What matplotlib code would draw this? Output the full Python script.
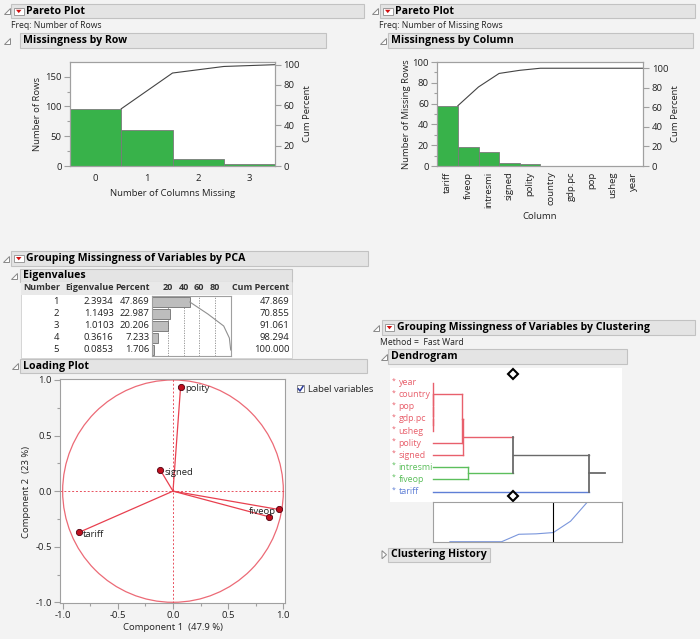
import numpy as np
import matplotlib.pyplot as plt
from matplotlib.patches import Rectangle, Polygon, Circle

plt.rcParams['font.family'] = ['Open Sans', 'DejaVu Sans']

W, H = 700, 639

# ---- data ----
# Pareto: missingness by row
row_missing = [0, 1, 2, 3]
row_counts = [96, 60, 11, 3]

# Pareto: missingness by column
col_names = ['tariff', 'fiveop', 'intresmi', 'signed', 'polity',
             'country', 'gdp.pc', 'pop', 'usheg', 'year']
col_counts = [58, 18, 13, 3, 2, 0, 0, 0, 0, 0]

# PCA eigenvalues
eig_number = [1, 2, 3, 4, 5]
eigenvalues = [2.3934, 1.1493, 1.0103, 0.3616, 0.0853]
eig_percent = [47.869, 22.987, 20.206, 7.233, 1.706]
eig_cum = [47.869, 70.855, 91.061, 98.294, 100.000]

# PCA loadings
load_vars = ['polity', 'signed', 'fiveop', 'intresmi', 'tariff']
load_c1 = [0.069, -0.115, 0.957, 0.867, -0.852]
load_c2 = [0.940, 0.190, -0.165, -0.230, -0.371]

# clustering (leaf order, cluster id, merges as linkage rows)
dend_leaves = ['year', 'country', 'pop', 'gdp.pc', 'usheg',
               'polity', 'signed', 'intresmi', 'fiveop', 'tariff']
leaf_cluster = [0, 0, 0, 0, 0, 0, 0, 1, 1, 2]
dend_merges = [(3, 4, 0), (2, 10, 0), (1, 11, 0), (0, 12, 0),
               (13, 5, 87), (14, 6, 92), (7, 8, 107), (15, 16, 240), (17, 9, 470)]
n_clusters = 3

# ---- styles ----
PAGE = '#f3f3f3'
TXT = '#222222'
AXC = '#a0a0a0'
GREEN = '#38b24a'
RED = '#e8505e'
CL_COLORS = ['#e8606c', '#5cbf5c', '#5f7fd6']
GRAY = '#6a6a6a'
FS = 6.8

fig = plt.figure(figsize=(W / 100, H / 100), dpi=100)
fig.patch.set_facecolor(PAGE)

bg = fig.add_axes([0, 0, 1, 1])
bg.set_xlim(0, W)
bg.set_ylim(H, 0)
bg.axis('off')


def box(x0, y0, x1, y1):
    return fig.add_axes([x0 / W, 1 - y1 / H, (x1 - x0) / W, (y1 - y0) / H])


def style(ax, size=FS):
    for s in ax.spines.values():
        s.set_color(AXC)
        s.set_linewidth(0.8)
    ax.tick_params(which='both', colors=AXC, labelcolor=TXT, labelsize=size,
                   width=0.8, direction='out', pad=2)
    ax.tick_params(which='major', length=4)
    ax.tick_params(which='minor', length=2)


def header(x0, y0, x1, y1, title, ix, btn=False, collapsed=False):
    bg.add_patch(Rectangle((x0, y0), x1 - x0, y1 - y0, fc='#e4e4e4', ec='#c2c2c2', lw=0.8))
    iy = (y0 + y1) / 2
    if collapsed:
        bg.add_patch(Polygon([[ix - 2, iy - 4], [ix - 2, iy + 4], [ix + 2.5, iy]],
                             closed=True, fc='white', ec='#888888', lw=0.7))
    else:
        bg.add_patch(Polygon([[ix - 3, iy + 3], [ix + 3, iy + 3], [ix + 3, iy - 3]],
                             closed=True, fc='white', ec='#888888', lw=0.7))
    tx = x0 + 2.7
    if btn:
        bg.add_patch(Rectangle((x0 + 3, iy - 3.5), 9.5, 7, fc='white', ec='#9a9a9a', lw=0.7))
        bg.add_patch(Polygon([[x0 + 5, iy - 1.5], [x0 + 10.5, iy - 1.5], [x0 + 7.75, iy + 1.8]],
                             closed=True, fc='#d01010', ec='none'))
        tx = x0 + 15
    bg.text(tx, iy, title, fontsize=7.6, fontweight='bold', va='center', ha='left', color='black')


def ptext(x, y, s, **kw):
    kw.setdefault('fontsize', 6.2)
    kw.setdefault('color', TXT)
    kw.setdefault('va', 'center')
    bg.text(x, y, s, **kw)


# ---- headers ----
header(11, 4.3, 364, 18.3, 'Pareto Plot', 6.5, btn=True)
header(380, 4.3, 695, 18.3, 'Pareto Plot', 374.5, btn=True)
header(20, 33.3, 326, 47.7, 'Missingness by Row', 7)
header(388.3, 33.3, 693.3, 47.7, 'Missingness by Column', 383)
header(11, 251, 367.7, 266, 'Grouping Missingness of Variables by PCA', 6, btn=True)
header(20, 269.3, 291.7, 281.7, 'Eigenvalues', 14)
header(20, 359.3, 366.7, 372.7, 'Loading Plot', 15)
header(381.7, 320, 695, 335, 'Grouping Missingness of Variables by Clustering', 375.5, btn=True)
header(388.3, 349.3, 626.7, 364.3, 'Dendrogram', 384)
header(388.3, 547.7, 490, 561.7, 'Clustering History', 384, collapsed=True)

ptext(11, 26, 'Freq: Number of Rows')
ptext(379, 26, 'Freq: Number of Missing Rows')
ptext(380, 342.3, 'Method =  Fast Ward')

# ---- Pareto by row ----
ax1 = box(70, 62, 275, 166)
ax1.bar(row_missing, row_counts, width=1.0, color=GREEN, edgecolor='#7a7a7a', linewidth=0.6)
cum1 = np.cumsum(row_counts)
ax1.plot(np.array(row_missing) + 0.5, cum1, color='#444444', lw=0.8)
ax1.set_xlim(-0.5, 3.5)
ax1.set_ylim(0, 174.5)
ax1.set_xticks(row_missing)
ax1.set_yticks([0, 50, 100, 150])
ax1.set_yticks([25, 75, 125], minor=True)
style(ax1)
ax1.tick_params(axis='x', length=0, pad=6)
ax1r = ax1.twinx()
ax1r.set_ylim(0, 174.5 / cum1[-1] * 100)
ax1r.set_yticks(range(0, 101, 20))
style(ax1r)
ptext(38, 114, 'Number of Rows', rotation=90, ha='center', fontsize=FS)
ptext(307, 114, 'Cum Percent', rotation=90, ha='center', fontsize=FS)
ptext(172.5, 194, 'Number of Columns Missing', ha='center', fontsize=FS)

# ---- Pareto by column ----
ax2 = box(437.3, 62, 643.3, 166)
xc = np.arange(len(col_names))
ax2.bar(xc, col_counts, width=1.0, color=GREEN, edgecolor='#7a7a7a', linewidth=0.6)
cum2 = np.cumsum(col_counts)
ax2.plot(xc + 0.5, cum2, color='#444444', lw=0.8)
ax2.set_xlim(-0.5, len(col_names) - 0.5)
ax2.set_ylim(0, 100)
ax2.set_xticks(xc)
ax2.set_xticklabels(col_names, rotation=90)
ax2.set_yticks(range(0, 101, 20))
ax2.set_yticks(range(10, 100, 20), minor=True)
style(ax2)
ax2.tick_params(axis='x', length=0, pad=4)
ax2r = ax2.twinx()
ax2r.set_ylim(0, 100 / cum2[-1] * 100)
ax2r.set_yticks(range(0, 101, 20))
style(ax2r)
ptext(406.7, 114, 'Number of Missing Rows', rotation=90, ha='center', fontsize=FS)
ptext(675, 114, 'Cum Percent', rotation=90, ha='center', fontsize=FS)
ptext(540, 216.7, 'Column', ha='center', fontsize=FS)

# ---- Eigenvalue table ----
bg.add_patch(Rectangle((21, 282), 271, 76, fc='white', ec='#d0d0d0', lw=0.6))
bg.add_patch(Rectangle((21, 282), 271, 13, fc='#e9e9e9', ec='none'))
hdr = dict(fontsize=6.5, fontweight='bold', ha='right', color='#333333')
ptext(60, 288, 'Number', **hdr)
ptext(113.5, 288, 'Eigenvalue', **hdr)
ptext(149.3, 288, 'Percent', **hdr)
ptext(289.3, 288, 'Cum Percent', **hdr)
for i in range(len(eig_number)):
    y = 302 + 12 * i
    ptext(59, y, str(eig_number[i]), ha='right', fontsize=FS)
    ptext(113.5, y, f'{eigenvalues[i]:.4f}', ha='right', fontsize=FS)
    ptext(149.3, y, f'{eig_percent[i]:.3f}', ha='right', fontsize=FS)
    ptext(289.3, y, f'{eig_cum[i]:.3f}', ha='right', fontsize=FS)

axe = box(152.3, 296, 230.7, 356)
axe.barh(range(len(eig_percent)), eig_percent, height=0.82, color='#bdbdbd',
         edgecolor='#707070', linewidth=0.6)
axe.plot(eig_cum, range(len(eig_cum)), color='#909090', lw=0.8)
for v in [20, 40, 60, 80]:
    axe.axvline(v, color='#8a8a8a', ls=(0, (1.5, 1.5)), lw=0.6, zorder=0)
axe.set_xlim(0, 100)
axe.set_ylim(len(eig_percent) - 0.5, -0.5)
axe.xaxis.tick_top()
axe.set_xticks([20, 40, 60, 80])
axe.set_yticks([])
style(axe)
axe.tick_params(axis='x', length=0, pad=3, labelsize=6.5)
for lab in axe.get_xticklabels():
    lab.set_fontweight('bold')
    lab.set_color('#333333')

# ---- Loading plot ----
axl = box(60, 379.3, 285, 603.3)
axl.set_facecolor('white')
axl.add_patch(Circle((0, 0), 1, fill=False, ec='#ec6a76', lw=0.9))
axl.axhline(0, color=RED, ls=(0, (2, 2)), lw=0.7)
axl.axvline(0, color=RED, ls=(0, (2, 2)), lw=0.7)
for x, y in zip(load_c1, load_c2):
    axl.plot([0, x], [0, y], color='#e8404f', lw=0.9)
axl.plot(load_c1, load_c2, 'o', ms=4.5, mfc='#c0101e', mec='#500010', mew=0.6)
label_off = {'polity': (3, -1, 'left'), 'signed': (3, -1.5, 'left'),
             'fiveop': (-2, -1.5, 'right'), 'tariff': (3, -1.5, 'left')}
for name, x, y in zip(load_vars, load_c1, load_c2):
    if name in label_off:
        dx, dy, ha = label_off[name]
        axl.annotate(name, (x, y), xytext=(dx, dy), textcoords='offset points',
                     ha=ha, va='center', fontsize=FS, color=TXT)
axl.set_xlim(-1.024, 1.015)
axl.set_ylim(-1.009, 1.006)
ticks = [-1.0, -0.5, 0.0, 0.5, 1.0]
axl.set_xticks(ticks)
axl.set_yticks(ticks)
axl.set_xticklabels([f'{t:.1f}' for t in ticks])
axl.set_yticklabels([f'{t:.1f}' for t in ticks])
axl.set_xticks([-0.75, -0.25, 0.25, 0.75], minor=True)
axl.set_yticks([-0.75, -0.25, 0.25, 0.75], minor=True)
style(axl)
axl.tick_params(axis='x', pad=1.5)
ptext(26.7, 491.5, 'Component 2  (23 %)', rotation=90, ha='center', fontsize=FS)
ptext(172.7, 627, 'Component 1  (47.9 %)', ha='center', fontsize=FS)

# checkbox
bg.add_patch(Rectangle((296.7, 385), 7.6, 7.3, fc='white', ec='#8a8a8a', lw=0.7))
bg.plot([298.3, 300, 303], [388.8, 391, 386.3], color='#2a3a9a', lw=1.1)
ptext(307.7, 389, 'Label variables', fontsize=FS)

# ---- Dendrogram ----
axd = box(390, 368, 622, 502)
axd.set_facecolor('white')
axd.set_xticks([])
axd.set_yticks([])
for s in axd.spines.values():
    s.set_visible(False)
axd.set_xlim(-128, 568)
axd.set_ylim(9.86, -1.21)

node_y = list(range(len(dend_leaves)))
node_x = [0.0] * len(dend_leaves)
node_cl = list(leaf_cluster)
node_col = [CL_COLORS[c] for c in leaf_cluster]
for a, b, h in dend_merges:
    for c in (a, b):
        axd.plot([node_x[c], h], [node_y[c], node_y[c]], color=node_col[c], lw=1.0)
    cl = node_cl[a] if node_cl[a] == node_cl[b] else -1
    col = CL_COLORS[cl] if cl >= 0 else GRAY
    axd.plot([h, h], [node_y[a], node_y[b]], color=col, lw=1.0 if cl >= 0 else 1.3)
    node_y.append((node_y[a] + node_y[b]) / 2)
    node_x.append(h)
    node_cl.append(cl)
    node_col.append(col)
axd.plot([node_x[-1], node_x[-1] + 48], [node_y[-1]] * 2, color=GRAY, lw=1.3)

for i, (name, c) in enumerate(zip(dend_leaves, leaf_cluster)):
    axd.text(-122, i - 0.15, '*', color=CL_COLORS[c], fontsize=5, ha='left', va='center')
    axd.text(-102, i, name, color=CL_COLORS[c], fontsize=6.4, ha='left', va='center')

cut_h = dend_merges[-n_clusters + 1][2]
axd.plot([cut_h, cut_h], [-0.69, 9.4], ls='none', marker='D', ms=5, mfc='white',
         mec='black', mew=1.5, clip_on=False)

# scree of join distances
axs = box(432.7, 502.3, 622.3, 542.3)
join_h = [m[2] for m in dend_merges]
axs.plot(range(len(join_h)), join_h, color='#7a96dc', lw=0.8)
axs.axvline(len(join_h) - n_clusters, color='black', lw=0.8)
axs.set_xlim(-1, 10)
axs.set_ylim(-7, 461)
axs.set_xticks([])
axs.set_yticks([])
style(axs)

fig.savefig('out.png', dpi=100, facecolor=PAGE)
